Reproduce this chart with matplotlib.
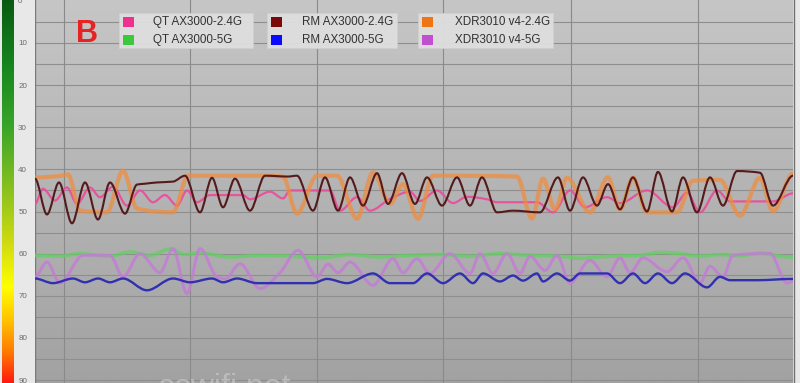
import numpy as np
import matplotlib
matplotlib.use("Agg")
import matplotlib.pyplot as plt
from matplotlib.path import Path
from matplotlib.patches import PathPatch, Rectangle
from matplotlib.colors import LinearSegmentedColormap

plt.rcParams['font.family'] = ['Liberation Sans', 'DejaVu Sans']

# ---------------- data (x = sample position, y = signal level) ----------------
labels = ["QT AX3000-2.4G", "QT AX3000-5G", "RM AX3000-2.4G",
          "RM AX3000-5G", "XDR3010 v4-2.4G", "XDR3010 v4-5G"]
legend_colors = ["#f0308f", "#3cc83c", "#7a0a0a", "#0a0aff", "#f07414", "#c050d0"]

qt24_x = [35, 43, 55, 67, 77, 90, 100, 113, 127, 140, 153, 165, 177, 187, 197, 210, 243, 250,
          270, 283, 290, 330, 340, 357, 370, 390, 410, 420, 437, 453, 467, 487, 497, 537, 553,
          570, 585, 607, 620, 647, 673, 687, 700, 717, 730, 773, 793]
qt24_y = [48.2, 44.6, 47.4, 44.3, 48.2, 44.3, 46.6, 44.1, 48.6, 45.0, 47.8, 46.1, 48.6, 45.0,
          47.8, 46.1, 46.1, 47.1, 45.3, 46.9, 45.0, 45.0, 49.8, 46.6, 49.8, 47.0, 45.3, 47.5,
          45.0, 48.0, 46.5, 47.1, 47.8, 47.8, 50.2, 45.0, 49.0, 46.6, 48.0, 45.0, 49.0, 45.5,
          50.2, 45.0, 47.6, 47.6, 45.7]

qt5_x = [35, 60, 80, 110, 130, 150, 170, 185, 200, 230, 260, 290, 320, 350, 380, 410, 440, 470,
         500, 530, 560, 580, 610, 640, 660, 680, 700, 720, 740, 760, 780, 793]
qt5_y = [60.4, 60.6, 60.0, 60.6, 59.6, 60.4, 58.9, 60.2, 59.8, 60.8, 60.4, 60.6, 61.0, 60.2,
         60.8, 60.4, 60.2, 60.6, 60.0, 60.4, 60.6, 61.1, 60.6, 60.4, 59.7, 60.0, 60.6, 60.2,
         60.5, 59.9, 60.6, 60.8]

rm24_x = [35, 47, 59, 72, 85, 98, 110, 125, 137, 145, 157, 173, 185, 200, 212, 223, 235, 250,
          265, 288, 297, 313, 325, 338, 350, 363, 377, 388, 402, 415, 427, 442, 457, 470, 482,
          497, 513, 540, 558, 570, 583, 597, 608, 620, 633, 647, 658, 672, 683, 697, 710, 723,
          737, 760, 773, 793]
rm24_y = [42.2, 50.7, 43.1, 52.8, 43.1, 51.9, 43.1, 50.5, 43.6, 43.4, 43.1, 42.9, 41.5, 50.2,
          42.0, 49.0, 42.2, 49.8, 41.5, 41.7, 41.5, 49.8, 41.9, 49.8, 41.9, 48.6, 40.9, 48.2,
          40.9, 48.2, 41.9, 48.6, 41.9, 48.6, 41.9, 50.2, 49.8, 50.2, 41.9, 49.8, 41.9, 48.6,
          43.5, 49.5, 41.9, 50.0, 40.6, 50.0, 41.9, 50.2, 41.9, 48.6, 40.4, 40.8, 48.6, 41.5]

rm5_x = [35, 53, 73, 85, 98, 110, 123, 147, 173, 190, 212, 223, 237, 257, 313, 327, 347, 373,
         390, 413, 427, 443, 460, 473, 483, 500, 513, 523, 537, 543, 557, 570, 580, 607, 620,
         633, 645, 658, 672, 685, 707, 720, 730, 757, 793]
rm5_y = [65.9, 67.0, 65.9, 66.8, 65.9, 66.8, 65.9, 68.7, 65.9, 66.8, 65.9, 66.8, 65.9, 67.0,
         67.0, 66.0, 67.0, 64.7, 67.0, 67.0, 64.7, 67.0, 64.7, 67.0, 64.7, 66.6, 65.2, 66.4,
         64.7, 66.6, 64.7, 66.4, 64.7, 64.7, 67.0, 64.7, 67.0, 64.7, 67.0, 64.7, 68.0, 65.5,
         66.3, 66.3, 66.0]

xdr24_x = [35, 62, 68, 80, 107, 123, 137, 173, 188, 263, 283, 297, 317, 337, 357, 373, 390,
           403, 418, 433, 517, 532, 543, 555, 567, 590, 608, 620, 633, 647, 677, 693, 720, 740,
           760, 773, 793]
xdr24_y = [41.9, 41.5, 41.2, 49.8, 50.2, 40.3, 49.3, 50.2, 41.5, 41.5, 41.7, 50.5, 41.5, 41.5,
           51.7, 40.7, 48.2, 43.5, 51.7, 41.5, 41.7, 51.7, 42.2, 49.5, 42.0, 50.2, 41.9, 49.5,
           42.0, 50.2, 50.2, 42.7, 42.5, 51.0, 42.0, 50.0, 41.0]

xdr5_x = [35, 47, 60, 83, 110, 123, 140, 160, 173, 187, 200, 217, 225, 240, 260, 280, 298, 317,
          328, 338, 350, 373, 393, 403, 417, 430, 450, 470, 480, 493, 507, 520, 530, 545, 557,
          570, 590, 607, 620, 630, 643, 667, 683, 700, 710, 723, 733, 770, 787, 793]
xdr5_y = [65.5, 62.0, 67.0, 60.4, 60.4, 65.5, 60.0, 64.5, 58.8, 69.5, 58.8, 65.5, 66.0, 62.4,
          68.3, 64.5, 59.2, 65.5, 62.5, 64.5, 62.0, 67.5, 61.2, 64.5, 61.2, 64.7, 60.0, 64.7,
          60.0, 64.7, 60.0, 64.7, 60.6, 64.0, 60.4, 67.0, 61.6, 65.5, 61.0, 64.5, 61.0, 64.3,
          61.0, 66.9, 63.0, 65.5, 60.4, 59.9, 67.0, 66.5]

y_ticks = [0, 10, 20, 30, 40, 50, 60, 70, 80, 90]
x_grid = [64, 190, 317, 443, 571, 698]

# ---------------- helpers ----------------
def smooth_path(x, y):
    x = np.asarray(x, float); y = np.asarray(y, float)
    h = np.diff(x); d = np.diff(y) / h
    m = np.zeros_like(y)
    for i in range(1, len(y) - 1):
        if d[i - 1] * d[i] > 0:
            w1 = 2 * h[i] + h[i - 1]; w2 = h[i] + 2 * h[i - 1]
            m[i] = (w1 + w2) / (w1 / d[i - 1] + w2 / d[i])
    verts = [(x[0], y[0])]; codes = [Path.MOVETO]
    for i in range(len(x) - 1):
        verts += [(x[i] + h[i] / 3, y[i] + m[i] * h[i] / 3),
                  (x[i + 1] - h[i] / 3, y[i + 1] - m[i + 1] * h[i] / 3),
                  (x[i + 1], y[i + 1])]
        codes += [Path.CURVE4] * 3
    return Path(verts, codes)

W, H = 800, 383
fig = plt.figure(figsize=(8.0, 3.83), dpi=100, facecolor="#e8e8e8")
YLIM = (90.7, -0.2)

# main plot
ax = fig.add_axes([35 / W, 0, (793 - 35) / W, 1])
ax.set_xlim(35, 793)
ax.set_ylim(*YLIM)
grad = np.linspace(0, 1, 256).reshape(-1, 1)
bg_cmap = LinearSegmentedColormap.from_list("bg", ["#c6c6c6", "#a2a2a2"])
ax.imshow(grad, cmap=bg_cmap, aspect="auto", extent=(35, 793, YLIM[0], YLIM[1]),
          origin="upper", zorder=0)
for v in range(5, 95, 5):
    ax.axhline(v, color="#8e8e8e", lw=0.8, zorder=1)
for gx in x_grid:
    ax.axvline(gx, color="#8a8a8a", lw=0.8, zorder=1)
ax.set_xticks([]); ax.set_yticks([])
for s in ax.spines.values():
    s.set_visible(False)
ax.axvline(35, color="#7a7a7a", lw=1.0, zorder=1)

styles = [
    (qt5_x, qt5_y, "#62d062", 2.6, 0.75, 2),
    (xdr5_x, xdr5_y, "#c47cd6", 2.1, 0.85, 3),
    (rm5_x, rm5_y, "#3030b0", 1.7, 1.0, 4),
    (qt24_x, qt24_y, "#e8509c", 1.6, 0.95, 2),
    (xdr24_x, xdr24_y, "#f08c3c", 3.0, 0.72, 3),
    (rm24_x, rm24_y, "#551a1c", 1.5, 1.0, 4),
]
for xs, ys, c, lw, a, z in styles:
    ax.add_patch(PathPatch(smooth_path(xs, ys), fill=False, edgecolor=c, lw=lw, alpha=a,
                           zorder=z, capstyle="round", joinstyle="round"))

# color bar at left
cax = fig.add_axes([2 / W, 0, 12 / W, 1])
cb_cmap = LinearSegmentedColormap.from_list(
    "sig", [(0.0, "#0a5a12"), (0.17, "#16861e"), (0.33, "#3aa52a"), (0.5, "#8cc21e"),
            (0.64, "#d2dc10"), (0.75, "#ffff00"), (0.84, "#ffc000"), (0.92, "#ff7a00"),
            (1.0, "#ff1a10")])
cax.imshow(grad, cmap=cb_cmap, aspect="auto", extent=(0, 1, YLIM[0], YLIM[1]), origin="upper")
cax.set_xlim(0, 1); cax.set_ylim(*YLIM)
cax.set_xticks([])
cax.yaxis.tick_right()
cax.set_yticks(y_ticks)
cax.set_yticklabels([str(t) for t in y_ticks])
cax.tick_params(axis="y", length=0, pad=3, labelsize=5.8, labelcolor="#6a6a6a")
for s in cax.spines.values():
    s.set_visible(False)

# overlay in pixel coordinates for legend / annotations
ov = fig.add_axes([0, 0, 1, 1], facecolor="none")
ov.set_xlim(0, W); ov.set_ylim(H, 0); ov.axis("off")
ov.axvline(794, color="#707070", lw=1.0)
ov.text(87, 34, "B", color="#e82222", fontsize=22, fontweight="bold", ha="center", va="center")

boxes = [(119, 253), (267, 397), (418, 553)]
text_off = [34, 35, 37]
for b, (x0, x1) in enumerate(boxes):
    ov.add_patch(Rectangle((x0, 13), x1 - x0, 35, facecolor="#dedede", edgecolor="#d0d0d0",
                           lw=0.6, alpha=0.95))
    for r in range(2):
        k = b * 2 + r
        yc = 22 + r * 18
        ov.add_patch(Rectangle((x0 + 4, yc - 5), 11, 10, facecolor=legend_colors[k],
                               edgecolor="none"))
        ov.text(x0 + text_off[b], yc, labels[k],
                fontsize=8.4, color="#333333", va="center", ha="left")

fig.text(158 / W, (H - 396) / H, "aswifi.net", fontsize=23, color="#d0d0d0", alpha=0.55,
         va="baseline", ha="left")

fig.savefig("out.png", dpi=100, facecolor=fig.get_facecolor())
